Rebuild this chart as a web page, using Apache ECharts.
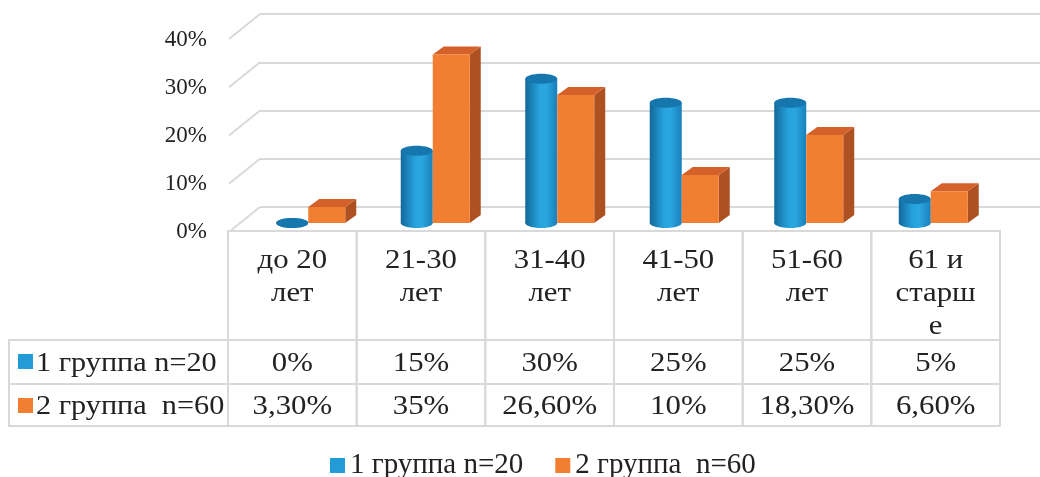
<!DOCTYPE html>
<html>
<head>
<meta charset="utf-8">
<script src="https://cdn.jsdelivr.net/npm/echarts@6/dist/echarts.min.js"></script>
<style>
  html, body { margin: 0; padding: 0; background: #fff; }
  #chart { width: 1040px; height: 477px; }
</style>
</head>
<body>
<div id="chart"></div>
<script>
// data
const categories = ['до 20\nлет', '21-30\nлет', '31-40\nлет', '41-50\nлет', '51-60\nлет', '61 и\nстарш\nе'];
const group1 = [0, 15, 30, 25, 25, 5];
const group2 = [3.3, 35, 26.6, 10, 18.3, 6.6];
const seriesNames = ['1 группа n=20', '2 группа  n=60'];
const yTicks = [0, 10, 20, 30, 40];

const FONT = 'Liberation Serif';
const TEXT = '#222222';
const LINE = '#D9D9D9';
const BLUE = '#239BD7';
const ORANGE = '#F27E32';
const STRETCH = 1.1; // source text is a bit wider than the font

// 3,30% style used in the source table
function fmt(v) {
  return Number.isInteger(v) ? v + '%' : v.toFixed(2).replace('.', ',') + '%';
}

const chart = echarts.init(document.getElementById('chart'));

function cylinder(params, api) {
  const top = api.coord([api.value(0), api.value(1)]);
  const base = api.coord([api.value(0), 0]);
  const w = 32, x0 = top[0] - 35, rx = w / 2, ry = 5;
  const body = new echarts.graphic.LinearGradient(0, 0, 1, 0, [
    { offset: 0, color: '#12689A' },
    { offset: 0.45, color: '#27A3DE' },
    { offset: 0.65, color: '#2AA6E0' },
    { offset: 1, color: '#1980BA' }
  ]);
  return {
    type: 'group',
    children: [
      { type: 'ellipse', shape: { cx: x0 + rx, cy: base[1], rx: rx, ry: ry }, style: { fill: body } },
      { type: 'rect', shape: { x: x0, y: top[1], width: w, height: base[1] - top[1] }, style: { fill: body } },
      { type: 'ellipse', shape: { cx: x0 + rx, cy: top[1], rx: rx, ry: ry }, style: { fill: '#1677AE' } }
    ]
  };
}

function box(params, api) {
  const top = api.coord([api.value(0), api.value(1)]);
  const base = api.coord([api.value(0), 0]);
  const w = 37, x1 = top[0] - 3, dx = 11, dy = 8;
  return {
    type: 'group',
    children: [
      { type: 'polygon', shape: { points: [[x1 + w, top[1]], [x1 + w + dx, top[1] - dy], [x1 + w + dx, base[1] - dy], [x1 + w, base[1]]] }, style: { fill: '#AD5122' } },
      { type: 'polygon', shape: { points: [[x1, top[1]], [x1 + dx, top[1] - dy], [x1 + w + dx, top[1] - dy], [x1 + w, top[1]]] }, style: { fill: '#D4612A' } },
      { type: 'rect', shape: { x: x1, y: top[1], width: w, height: base[1] - top[1] }, style: { fill: ORANGE } }
    ]
  };
}

// table columns
const ROW_TOP = 231, ROW1 = 340, ROW2 = 384, ROW_END = 426;
function tableColumn(params, api) {
  const i = api.value(0);
  const cx = api.coord([i, 0])[0];
  const bw = api.size([1, 0])[0];
  const x = cx - bw / 2;
  const ls = { fill: 'none', stroke: LINE, lineWidth: 2 };
  const ts = { fontFamily: FONT, fontSize: 28, fill: TEXT, align: 'center' };
  return {
    type: 'group',
    children: [
      { type: 'rect', shape: { x: x, y: ROW_TOP, width: bw, height: ROW1 - ROW_TOP }, style: ls },
      { type: 'rect', shape: { x: x, y: ROW1, width: bw, height: ROW2 - ROW1 }, style: ls },
      { type: 'rect', shape: { x: x, y: ROW2, width: bw, height: ROW_END - ROW2 }, style: ls },
      { type: 'text', x: cx, y: 244, scaleX: STRETCH, style: Object.assign({ text: categories[i], verticalAlign: 'top', lineHeight: 33 }, ts) },
      { type: 'text', x: cx, y: 364, scaleX: STRETCH, style: Object.assign({ text: fmt(group1[i]), verticalAlign: 'middle' }, ts) },
      { type: 'text', x: cx, y: 407, scaleX: STRETCH, style: Object.assign({ text: fmt(group2[i]), verticalAlign: 'middle' }, ts) }
    ]
  };
}

chart.setOption({
  animation: false,
  grid: [
    { left: 228, top: 40, width: 10, height: 192 },   // front axis labels
    { left: 260, right: 0, top: 14, height: 193 },    // back wall
    { left: 249, width: 747, top: 30.5, height: 192.5 }, // bars
    { left: 228, width: 772, top: 231, height: 195 }  // table
  ],
  xAxis: [
    { gridIndex: 0, type: 'value', show: false },
    { gridIndex: 1, type: 'value', min: 0, max: 1, show: false },
    { gridIndex: 2, type: 'category', data: categories, show: false },
    { gridIndex: 3, type: 'category', data: categories, show: false }
  ],
  yAxis: [
    {
      gridIndex: 0, type: 'value', min: 0, max: 40, interval: 10,
      axisLine: { show: false }, axisTick: { show: false }, splitLine: { show: false },
      axisLabel: { formatter: '{value}%', fontFamily: FONT, fontSize: 23, color: TEXT, margin: 21 }
    },
    {
      gridIndex: 1, type: 'value', min: 0, max: 40, interval: 10,
      axisLine: { show: false }, axisTick: { show: false }, axisLabel: { show: false },
      splitLine: { show: true, lineStyle: { color: LINE, width: 2 } }
    },
    { gridIndex: 2, type: 'value', min: 0, max: 40, show: false },
    { gridIndex: 3, type: 'value', min: 0, max: 1, show: false }
  ],
  legend: {
    data: seriesNames,
    left: 325, top: 446,
    icon: 'rect', itemWidth: 15, itemHeight: 15, itemGap: 32,
    textStyle: { fontFamily: FONT, fontSize: 29, color: TEXT }
  },
  graphic: [
    { type: 'rect', shape: { x: 9, y: ROW1, width: 219, height: ROW2 - ROW1 }, style: { fill: 'none', stroke: LINE, lineWidth: 2 } },
    { type: 'rect', shape: { x: 9, y: ROW2, width: 219, height: ROW_END - ROW2 }, style: { fill: 'none', stroke: LINE, lineWidth: 2 } },
    { type: 'rect', shape: { x: 18, y: 354, width: 15, height: 15 }, style: { fill: BLUE } },
    { type: 'rect', shape: { x: 18, y: 398, width: 15, height: 15 }, style: { fill: ORANGE } },
    { type: 'text', x: 36, y: 364, scaleX: 1.08, style: { text: seriesNames[0], fontFamily: FONT, fontSize: 28, fill: TEXT, verticalAlign: 'middle' } },
    { type: 'text', x: 36, y: 407, scaleX: 1.08, style: { text: seriesNames[1], fontFamily: FONT, fontSize: 28, fill: TEXT, verticalAlign: 'middle' } }
  ],
  series: [
    {
      type: 'custom', name: 'walls', xAxisIndex: 1, yAxisIndex: 1, silent: true, z: 1,
      data: yTicks.map(v => [0, v]),
      renderItem: (params, api) => {
        const p = api.coord([0, api.value(1)]);
        return { type: 'line', shape: { x1: p[0], y1: p[1], x2: p[0] - 31, y2: p[1] + 25 }, style: { stroke: LINE, lineWidth: 2 } };
      }
    },
    {
      type: 'custom', name: seriesNames[0], xAxisIndex: 2, yAxisIndex: 2, z: 3,
      itemStyle: { color: BLUE },
      data: group1.map((v, i) => [i, v]),
      renderItem: cylinder
    },
    {
      type: 'custom', name: seriesNames[1], xAxisIndex: 2, yAxisIndex: 2, z: 4,
      itemStyle: { color: ORANGE },
      data: group2.map((v, i) => [i, v]),
      renderItem: box
    },
    {
      type: 'custom', name: 'table', xAxisIndex: 3, yAxisIndex: 3, silent: true, z: 2,
      data: categories.map((c, i) => [i]),
      renderItem: tableColumn
    }
  ]
});
</script>
</body>
</html>
